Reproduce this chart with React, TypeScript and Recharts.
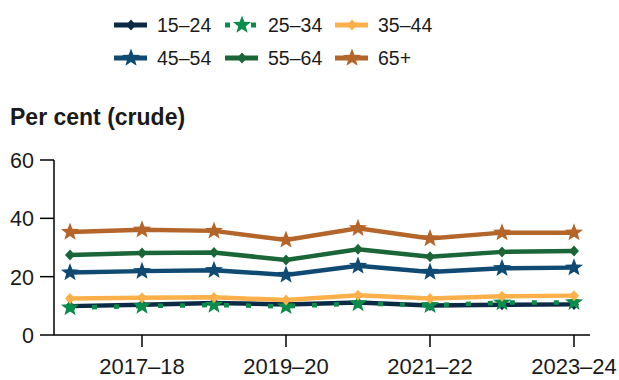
import React from "react";
import { LineChart, Line, XAxis, YAxis } from "recharts";

// Financial years along the x-axis
const YEARS = ["2016–17", "2017–18", "2018–19", "2019–20", "2020–21", "2021–22", "2022–23", "2023–24"];
const X_TICKS = ["2017–18", "2019–20", "2021–22", "2023–24"];
const Y_TICKS = [0, 20, 40, 60];

// Per cent (crude), by age group
const AGE_15_24 = [9.9, 10.4, 11.0, 10.5, 11.1, 10.1, 10.4, 10.5];
const AGE_25_34 = [9.4, 9.9, 10.3, 9.8, 10.8, 10.2, 11.1, 11.2];
const AGE_35_44 = [12.5, 12.8, 12.9, 12.0, 13.6, 12.5, 13.3, 13.5];
const AGE_45_54 = [21.4, 21.9, 22.2, 20.6, 23.7, 21.6, 22.9, 23.1];
const AGE_55_64 = [27.4, 28.1, 28.3, 25.7, 29.4, 26.8, 28.5, 28.8];
const AGE_65_PLUS = [35.3, 36.1, 35.7, 32.6, 36.6, 33.1, 35.1, 35.1];

type Marker = "diamond" | "star";

const SERIES = [
  { key: "a15", name: "15–24", values: AGE_15_24, color: "#0c2a45", marker: "diamond" as Marker, dash: undefined },
  { key: "a25", name: "25–34", values: AGE_25_34, color: "#0a8c4b", marker: "star" as Marker, dash: "5 17" },
  { key: "a35", name: "35–44", values: AGE_35_44, color: "#fcb04a", marker: "diamond" as Marker, dash: undefined },
  { key: "a45", name: "45–54", values: AGE_45_54, color: "#0f4a73", marker: "star" as Marker, dash: undefined },
  { key: "a55", name: "55–64", values: AGE_55_64, color: "#1b6638", marker: "diamond" as Marker, dash: undefined },
  { key: "a65", name: "65+", values: AGE_65_PLUS, color: "#b4662a", marker: "star" as Marker, dash: undefined },
];

const data = YEARS.map((year, i) => {
  const row: Record<string, string | number> = { year };
  SERIES.forEach((s) => {
    row[s.key] = s.values[i];
  });
  return row;
});

const FONT = "'Liberation Sans', Arial, Helvetica, sans-serif";
const INK = "#1a1a1a";

function starPath(cx: number, cy: number, R: number, r: number) {
  let d = "";
  for (let i = 0; i < 10; i++) {
    const a = ((-90 + i * 36) * Math.PI) / 180;
    const rad = i % 2 === 0 ? R : r;
    d += (i === 0 ? "M" : "L") + (cx + rad * Math.cos(a)).toFixed(2) + "," + (cy + rad * Math.sin(a)).toFixed(2);
  }
  return d + "Z";
}

function MarkerShape({ cx, cy, type, color }: { cx: number; cy: number; type: Marker; color: string }) {
  if (type === "star") {
    return <path d={starPath(cx, cy, 9.5, 4)} fill={color} stroke="none" />;
  }
  return <path d={`M${cx},${cy - 5.5}L${cx + 5},${cy}L${cx},${cy + 5.5}L${cx - 5},${cy}Z`} fill={color} />;
}

function makeDot(type: Marker, color: string) {
  return (props: any) => {
    const { cx, cy, index } = props;
    if (cx == null || cy == null) return <g key={index} />;
    return <MarkerShape key={index} cx={cx} cy={cy} type={type} color={color} />;
  };
}

// tick labels sit a bit below/right of the default spots in the original
const XTick = (props: any) => {
  const { x, y, payload } = props;
  return (
    <text x={x} y={y + 25} textAnchor="middle" fontSize={22} fontFamily={FONT} fill={INK}>
      {payload.value}
    </text>
  );
};

const YTick = (props: any) => {
  const { y, payload } = props;
  return (
    <text x={34} y={y + 8} textAnchor="end" fontSize={21.5} fontFamily={FONT} fill={INK}>
      {payload.value}
    </text>
  );
};

function LegendBlock() {
  const cols = [114, 225, 335];
  const rows = [25, 58];
  return (
    <svg width={619} height={130} style={{ position: "absolute", left: 0, top: 0 }}>
      {SERIES.map((s, i) => {
        const x = cols[i % 3];
        const y = rows[Math.floor(i / 3)];
        return (
          <g key={s.key}>
            <line
              x1={x}
              x2={x + 33}
              y1={y}
              y2={y}
              stroke={s.color}
              strokeWidth={5}
              strokeDasharray={s.dash ? "5 8" : undefined}
            />
            <MarkerShape cx={x + 17} cy={y} type={s.marker} color={s.color} />
            <text x={x + 43} y={y} dy="0.35em" fontSize={19.5} fill={INK} fontFamily={FONT}>
              {s.name}
            </text>
          </g>
        );
      })}
      <text x={10} y={125} fontSize={23} fontWeight="bold" fill={INK} fontFamily={FONT}>
        Per cent (crude)
      </text>
    </svg>
  );
}

export default function App() {
  return (
    <div style={{ position: "absolute", left: 0, top: 0, width: 619, height: 380, background: "#fff" }}>
      <LegendBlock />
      <div style={{ position: "absolute", left: 0, top: 0 }}>
        <LineChart width={619} height={380} data={data} margin={{ top: 160, right: 29, bottom: 0, left: 0 }}>
          <XAxis
            dataKey="year"
            scale="point"
            padding={{ left: 16, right: 16 }}
            ticks={X_TICKS}
            interval={0}
            height={45}
            tickSize={12}
            axisLine={{ stroke: "#000", strokeWidth: 1.5 }}
            tickLine={{ stroke: "#000", strokeWidth: 1.5 }}
            tick={<XTick />}
          />
          <YAxis
            domain={[0, 60]}
            ticks={Y_TICKS}
            width={54}
            tickSize={14}
            axisLine={{ stroke: "#000", strokeWidth: 1.5 }}
            tickLine={{ stroke: "#000", strokeWidth: 1.5 }}
            tick={<YTick />}
          />
          {SERIES.map((s) => (
            <Line
              key={s.key}
              dataKey={s.key}
              name={s.name}
              type="linear"
              stroke={s.color}
              strokeWidth={4.5}
              strokeDasharray={s.dash}
              dot={makeDot(s.marker, s.color)}
              activeDot={false}
              isAnimationActive={false}
            />
          ))}
        </LineChart>
      </div>
    </div>
  );
}
